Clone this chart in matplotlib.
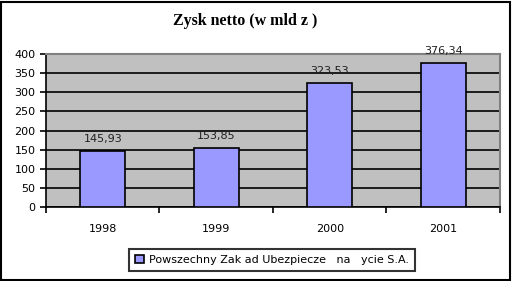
import matplotlib
matplotlib.use("Agg")
import matplotlib.pyplot as plt
from matplotlib.patches import Rectangle

years = ["1998", "1999", "2000", "2001"]
profit = [145.93, 153.85, 323.53, 376.34]
labels = ["145,93", "153,85", "323,53", "376,34"]
series_name = "Powszechny Zak ad Ubezpiecze   na   ycie S.A."

plt.rcParams['font.family'] = ['DejaVu Sans']

fig = plt.figure(figsize=(5.12, 2.81), dpi=100)
fig.patches.append(Rectangle((0.002, 0.004), 0.994, 0.99, transform=fig.transFigure,
                             fill=False, edgecolor='black', linewidth=1.5))

ax = fig.add_axes([0.0898, 0.2633, 0.8867, 0.5445])
ax.set_facecolor('#C0C0C0')
x = range(len(years))
ax.bar(x, profit, width=0.4, color='#9999FF', edgecolor='black', linewidth=1.2,
       zorder=3, label=series_name)
for i, (v, t) in enumerate(zip(profit, labels)):
    ax.annotate(t, (i, v), xytext=(0, 6.5), textcoords='offset points',
                ha='center', va='baseline', fontsize=8, color='#202020')

ax.set_xlim(-0.5, 3.5)
ax.set_ylim(0, 400)
ax.set_yticks(range(0, 401, 50))
ax.set_xticks(list(x))
ax.set_xticklabels(years)
ax.set_xticks([i - 0.5 for i in range(len(years) + 1)], minor=True)
ax.yaxis.grid(True, color='black', linewidth=1.2, zorder=1)
ax.set_axisbelow(True)
ax.tick_params(axis='both', labelsize=8, direction='out', length=4, width=1.2, color='black')
ax.tick_params(axis='x', which='major', length=0, pad=12)
ax.tick_params(axis='x', which='minor', length=4, width=1.2, direction='out')
for s in ['top', 'right']:
    ax.spines[s].set_color('#808080')
    ax.spines[s].set_linewidth(1.5)
for s in ['left', 'bottom']:
    ax.spines[s].set_color('black')
    ax.spines[s].set_linewidth(1.2)

fig.text(0.478, 0.925, "Zysk netto (w mld z )", ha='center', va='center',
         fontsize=11.5, fontweight='bold', family='Liberation Serif')

leg = fig.legend(loc='center', bbox_to_anchor=(0.531, 0.075), fontsize=8, frameon=True,
                 fancybox=False, handlelength=0.8, handleheight=0.8, handletextpad=0.4,
                 borderpad=0.55)
leg.get_frame().set_edgecolor('black')
leg.get_frame().set_linewidth(1.5)

fig.savefig("out.png", dpi=100)
